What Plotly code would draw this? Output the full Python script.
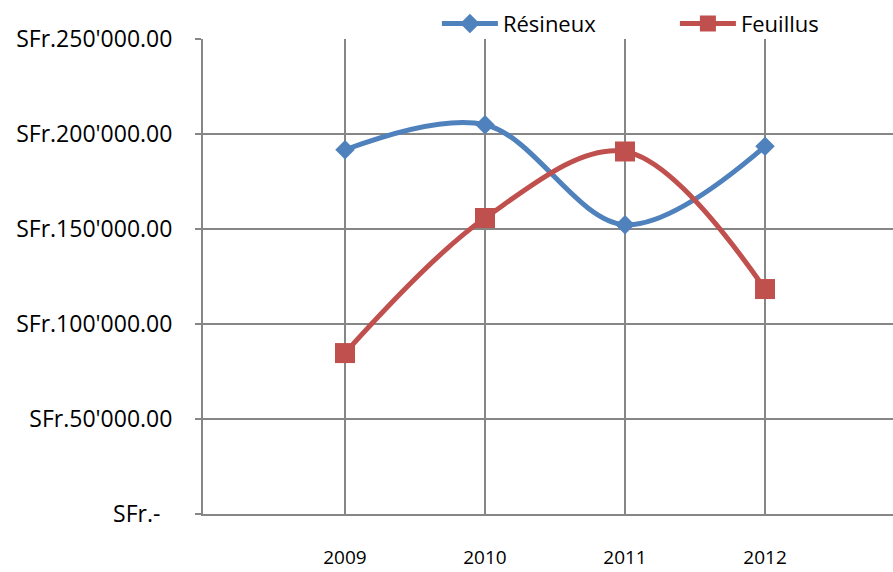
import plotly.graph_objects as go

years = [2009, 2010, 2011, 2012]
resineux = [191700, 204900, 152300, 193500]
feuillus = [84700, 155800, 190800, 118400]
y_ticks = [0, 50000, 100000, 150000, 200000, 250000]
y_tick_labels = ["SFr.-\u00a0\u00a0", "SFr.50'000.00", "SFr.100'000.00", "SFr.150'000.00",
                 "SFr.200'000.00", "SFr.250'000.00"]
x_tick_labels = ["2009", "2010", "2011", "2012"]

BLUE = "#4F81BD"
RED = "#C0504D"
GRID = "#868686"
FONT = "Open Sans"

fig = go.Figure()
fig.add_trace(go.Scatter(
    x=years, y=resineux, name="Résineux", mode="lines+markers",
    line=dict(color=BLUE, width=5, shape="spline", smoothing=1),
    marker=dict(symbol="diamond", size=15, color=BLUE),
))
fig.add_trace(go.Scatter(
    x=years, y=feuillus, name="Feuillus", mode="lines+markers",
    line=dict(color=RED, width=5, shape="spline", smoothing=1),
    marker=dict(symbol="square", size=20, color=RED),
))

fig.update_layout(
    width=893, height=572,
    margin=dict(l=203, r=0, t=39, b=58, autoexpand=False),
    paper_bgcolor="white", plot_bgcolor="white",
    font=dict(family=FONT, size=22, color="black"),
    showlegend=True,
    legend=dict(orientation="h", x=0.339, y=0.988, xanchor="left", yanchor="bottom",
                font=dict(family=FONT, size=22, color="black"),
                itemwidth=56, entrywidth=167, bgcolor="rgba(0,0,0,0)"),
    xaxis=dict(
        range=[2007.986, 2012.914],
        tickvals=years, ticktext=x_tick_labels,
        showgrid=True, gridcolor=GRID, gridwidth=2,
        showline=True, linecolor=GRID, linewidth=2,
        ticks="", zeroline=False,
        tickfont=dict(family=FONT, size=19, color="black"),
        ticklabelstandoff=25,
    ),
    yaxis=dict(
        range=[0, 250000],
        tickvals=y_ticks, ticktext=y_tick_labels,
        showgrid=True, gridcolor=GRID, gridwidth=2,
        showline=True, linecolor=GRID, linewidth=2,
        ticks="outside", ticklen=6, tickcolor=GRID, tickwidth=2,
        zeroline=False,
        tickfont=dict(family=FONT, size=23, color="black"),
        ticklabelstandoff=18,
    ),
)

fig.write_html("out.html",
               config={"displayModeBar": False},
               post_script="document.body.style.margin='0';document.body.style.overflow='hidden';")
